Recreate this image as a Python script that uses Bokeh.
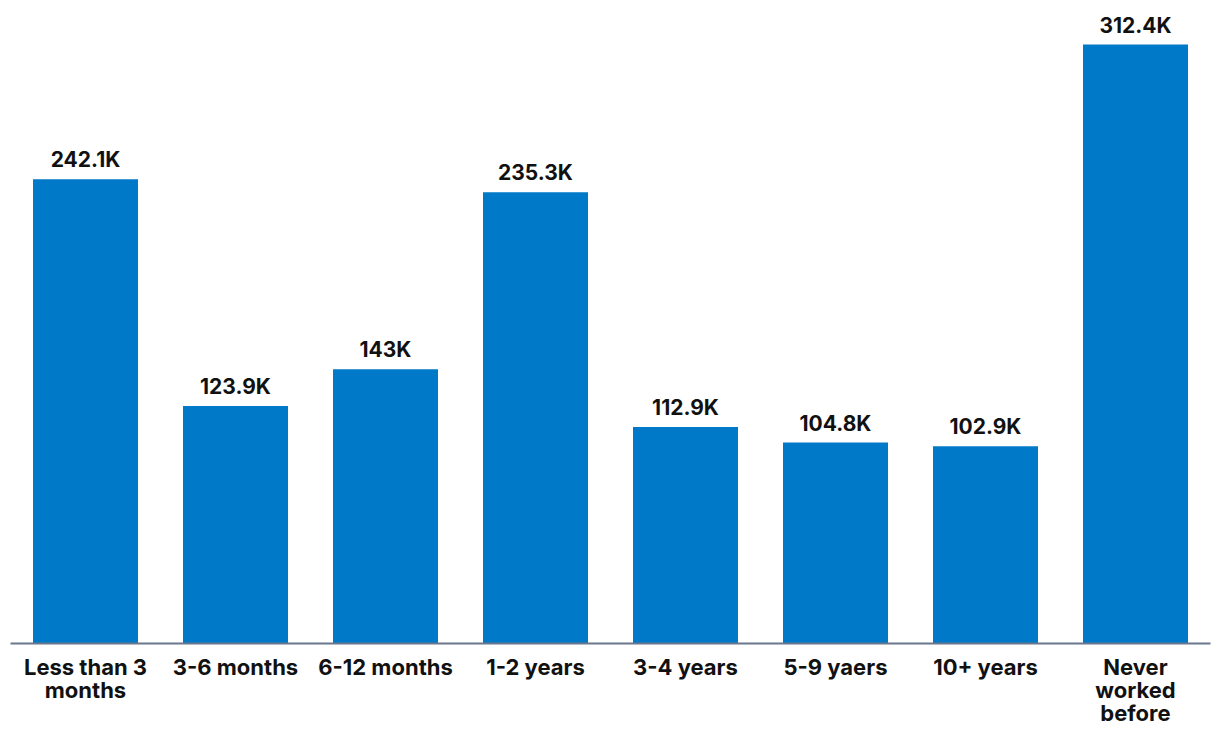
from bokeh.plotting import figure
from bokeh.models import ColumnDataSource, Range1d, FactorRange
from bokeh.core.properties import value
from bokeh.embed import file_html
from bokeh.resources import INLINE

categories = ["Less than 3\nmonths", "3-6 months", "6-12 months", "1-2 years",
              "3-4 years", "5-9 yaers", "10+ years", "Never\nworked\nbefore"]
values = [242.1, 123.9, 143.0, 235.3, 112.9, 104.8, 102.9, 312.4]
value_labels = ["242.1K", "123.9K", "143K", "235.3K", "112.9K", "104.8K", "102.9K", "312.4K"]

src = ColumnDataSource(dict(cat=categories, val=values, lab=value_labels))

p = figure(width=1212, height=740, x_range=FactorRange(*categories, range_padding=0),
           y_range=Range1d(0, 331.2), output_backend="svg", toolbar_location=None,
           min_border_left=10, min_border_right=2, min_border_top=8, min_border_bottom=97)
p.vbar(x="cat", top="val", width=0.7, source=src, color="#0079C8", line_color=None)
p.text(x="cat", y="val", text="lab", source=src, y_offset=-7, text_align="center",
       text_baseline="bottom", text_font=value("Inter"), text_font_style="bold",
       text_font_size="21px", text_color="#111111")

p.yaxis.visible = False
p.xgrid.visible = False
p.ygrid.visible = False
p.outline_line_color = None
p.xaxis.axis_line_color = "#6B778C"
p.xaxis.axis_line_width = 2
p.xaxis.major_tick_line_color = None
p.xaxis.minor_tick_line_color = None
p.xaxis.major_label_text_font = "Inter"
p.xaxis.major_label_text_font_style = "bold"
p.xaxis.major_label_text_font_size = "22px"
p.xaxis.major_label_text_line_height = 0.9
p.xaxis.major_label_text_color = "#111111"
p.xaxis.major_label_standoff = 4

open("out.html", "w").write(file_html(p, INLINE))
